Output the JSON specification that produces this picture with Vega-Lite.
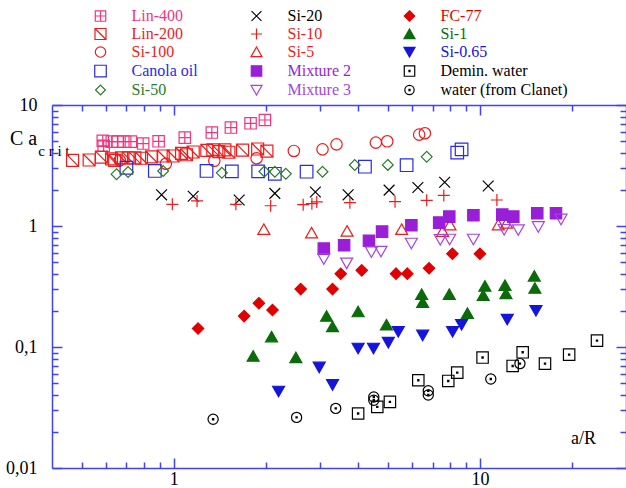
{
  "$schema": "https://vega.github.io/schema/vega-lite/v6.json",
  "width": 574,
  "height": 363,
  "autosize": {"type": "none"},
  "padding": {"left": 52, "top": 105, "right": 0, "bottom": 20},
  "background": "white",
  "config": {
    "font": "Liberation Serif, Times New Roman, Times, serif",
    "view": {"stroke": null},
    "text": {"font": "Liberation Serif, Times New Roman, Times, serif"},
    "axis": {"domainColor": "#4040ff", "domainWidth": 1.5, "tickColor": "#4040ff", "tickWidth": 1.5, "tickSize": 0, "grid": false, "labelFont": "Liberation Serif, Times New Roman, Times, serif", "labelFontSize": 18, "labelColor": "#000000", "labelOverlap": false, "labelFlush": false, "titleFont": "Liberation Serif, Times New Roman, Times, serif", "titleFontWeight": "normal", "titleColor": "#000000"},
    "legend": {"padding": 0, "labelFont": "Liberation Serif, Times New Roman, Times, serif"}
  },
  "data": {"values": [
    {"s":"Lin-400","x":0.586,"y":5.06},{"s":"Lin-400","x":0.590,"y":4.60},{"s":"Lin-400","x":0.627,"y":4.98},{"s":"Lin-400","x":0.656,"y":4.98},{"s":"Lin-400","x":0.684,"y":4.98},{"s":"Lin-400","x":0.724,"y":4.98},{"s":"Lin-400","x":0.794,"y":4.80},{"s":"Lin-400","x":0.892,"y":5.01},{"s":"Lin-400","x":1.086,"y":5.38},{"s":"Lin-400","x":1.331,"y":5.92},{"s":"Lin-400","x":1.536,"y":6.51},{"s":"Lin-400","x":1.781,"y":7.06},{"s":"Lin-400","x":1.984,"y":7.52},
    {"s":"Lin-200","x":0.467,"y":3.49},{"s":"Lin-200","x":0.529,"y":3.51},{"s":"Lin-200","x":0.580,"y":3.71},{"s":"Lin-200","x":0.626,"y":3.59},{"s":"Lin-200","x":0.641,"y":3.49},{"s":"Lin-200","x":0.675,"y":3.66},{"s":"Lin-200","x":0.709,"y":3.66},{"s":"Lin-200","x":0.746,"y":3.66},{"s":"Lin-200","x":0.784,"y":3.63},{"s":"Lin-200","x":0.846,"y":3.72},{"s":"Lin-200","x":0.923,"y":3.79},{"s":"Lin-200","x":0.995,"y":3.79},{"s":"Lin-200","x":1.06,"y":3.99},{"s":"Lin-200","x":1.10,"y":3.88},{"s":"Lin-200","x":1.157,"y":4.09},{"s":"Lin-200","x":1.282,"y":4.21},{"s":"Lin-200","x":1.341,"y":4.26},{"s":"Lin-200","x":1.403,"y":4.12},{"s":"Lin-200","x":1.468,"y":4.26},{"s":"Lin-200","x":1.513,"y":4.07},{"s":"Lin-200","x":1.677,"y":4.24},{"s":"Lin-200","x":1.879,"y":4.33},{"s":"Lin-200","x":2.014,"y":4.16},
    {"s":"Si-100","x":0.666,"y":3.49},{"s":"Si-100","x":0.942,"y":3.27},{"s":"Si-100","x":1.356,"y":3.46},{"s":"Si-100","x":1.864,"y":3.63},{"s":"Si-100","x":2.467,"y":4.17},{"s":"Si-100","x":3.06,"y":4.30},{"s":"Si-100","x":3.40,"y":4.73},{"s":"Si-100","x":4.57,"y":4.89},{"s":"Si-100","x":4.98,"y":5.01},{"s":"Si-100","x":6.33,"y":5.69},{"s":"Si-100","x":6.61,"y":5.84},
    {"s":"Canola oil","x":0.700,"y":3.03},{"s":"Canola oil","x":0.867,"y":2.85},{"s":"Canola oil","x":1.279,"y":2.85},{"s":"Canola oil","x":1.547,"y":2.83},{"s":"Canola oil","x":1.886,"y":2.83},{"s":"Canola oil","x":2.138,"y":2.70},{"s":"Canola oil","x":2.715,"y":2.81},{"s":"Canola oil","x":4.21,"y":3.09},{"s":"Canola oil","x":5.76,"y":3.18},{"s":"Canola oil","x":8.43,"y":4.04},{"s":"Canola oil","x":8.71,"y":4.30},
    {"s":"Si-50","x":0.650,"y":2.68},{"s":"Si-50","x":0.709,"y":2.79},{"s":"Si-50","x":0.923,"y":2.85},{"s":"Si-50","x":1.435,"y":2.75},{"s":"Si-50","x":1.976,"y":2.82},{"s":"Si-50","x":2.138,"y":2.81},{"s":"Si-50","x":2.323,"y":2.70},{"s":"Si-50","x":3.06,"y":2.81},{"s":"Si-50","x":3.90,"y":3.19},{"s":"Si-50","x":5.00,"y":3.20},{"s":"Si-50","x":6.70,"y":3.73},
    {"s":"Si-20","x":0.912,"y":1.81},{"s":"Si-20","x":1.157,"y":1.76},{"s":"Si-20","x":1.635,"y":1.64},{"s":"Si-20","x":2.138,"y":1.86},{"s":"Si-20","x":2.90,"y":1.91},{"s":"Si-20","x":3.71,"y":1.81},{"s":"Si-20","x":5.05,"y":1.98},{"s":"Si-20","x":6.27,"y":2.08},{"s":"Si-20","x":7.67,"y":2.30},{"s":"Si-20","x":10.64,"y":2.14},
    {"s":"Si-10","x":0.989,"y":1.51},{"s":"Si-10","x":1.191,"y":1.61},{"s":"Si-10","x":1.595,"y":1.51},{"s":"Si-10","x":2.072,"y":1.47},{"s":"Si-10","x":2.646,"y":1.50},{"s":"Si-10","x":2.825,"y":1.53},{"s":"Si-10","x":2.93,"y":1.58},{"s":"Si-10","x":3.76,"y":1.56},{"s":"Si-10","x":5.28,"y":1.59},{"s":"Si-10","x":6.70,"y":1.63},{"s":"Si-10","x":7.62,"y":1.79},{"s":"Si-10","x":11.36,"y":1.64},
    {"s":"Si-5","x":1.968,"y":0.939},{"s":"Si-5","x":2.818,"y":0.879},{"s":"Si-5","x":3.68,"y":0.909},{"s":"Si-5","x":5.55,"y":0.939},{"s":"Si-5","x":7.55,"y":0.904},{"s":"Si-5","x":7.98,"y":1.023},{"s":"Si-5","x":11.48,"y":1.023},{"s":"Si-5","x":12.21,"y":1.059},
    {"s":"Mixture 2","x":3.09,"y":0.650},{"s":"Mixture 2","x":3.60,"y":0.693},{"s":"Mixture 2","x":4.34,"y":0.755},{"s":"Mixture 2","x":4.79,"y":0.899},{"s":"Mixture 2","x":5.97,"y":1.013},{"s":"Mixture 2","x":7.36,"y":1.067},{"s":"Mixture 2","x":7.94,"y":1.196},{"s":"Mixture 2","x":9.52,"y":1.226},{"s":"Mixture 2","x":11.83,"y":1.242},{"s":"Mixture 2","x":12.85,"y":1.196},{"s":"Mixture 2","x":15.39,"y":1.273},{"s":"Mixture 2","x":17.72,"y":1.273},
    {"s":"Mixture 3","x":3.09,"y":0.534},{"s":"Mixture 3","x":3.67,"y":0.492},{"s":"Mixture 3","x":4.42,"y":0.610},{"s":"Mixture 3","x":4.75,"y":0.616},{"s":"Mixture 3","x":5.97,"y":0.719},{"s":"Mixture 3","x":7.42,"y":0.772},{"s":"Mixture 3","x":7.96,"y":0.776},{"s":"Mixture 3","x":9.52,"y":0.776},{"s":"Mixture 3","x":12.0,"y":0.934},{"s":"Mixture 3","x":13.34,"y":0.927},{"s":"Mixture 3","x":15.51,"y":0.985},{"s":"Mixture 3","x":18.40,"y":1.136},
    {"s":"FC-77","x":1.20,"y":0.142},{"s":"FC-77","x":1.697,"y":0.180},{"s":"FC-77","x":1.896,"y":0.230},{"s":"FC-77","x":2.101,"y":0.202},{"s":"FC-77","x":2.597,"y":0.301},{"s":"FC-77","x":3.30,"y":0.301},{"s":"FC-77","x":3.51,"y":0.403},{"s":"FC-77","x":4.11,"y":0.430},{"s":"FC-77","x":5.32,"y":0.404},{"s":"FC-77","x":5.79,"y":0.404},{"s":"FC-77","x":6.82,"y":0.447},{"s":"FC-77","x":8.13,"y":0.589},{"s":"FC-77","x":10.0,"y":0.589},
    {"s":"Si-1","x":1.816,"y":0.0842},{"s":"Si-1","x":2.086,"y":0.1215},{"s":"Si-1","x":2.504,"y":0.0818},{"s":"Si-1","x":3.155,"y":0.180},{"s":"Si-1","x":3.30,"y":0.1474},{"s":"Si-1","x":4.00,"y":0.196},{"s":"Si-1","x":4.95,"y":0.1526},{"s":"Si-1","x":6.45,"y":0.2727},{"s":"Si-1","x":6.50,"y":0.234},{"s":"Si-1","x":7.94,"y":0.2727},{"s":"Si-1","x":9.10,"y":0.190},{"s":"Si-1","x":10.38,"y":0.319},{"s":"Si-1","x":10.25,"y":0.2676},{"s":"Si-1","x":12.07,"y":0.3236},{"s":"Si-1","x":12.16,"y":0.2763},{"s":"Si-1","x":15.05,"y":0.386},{"s":"Si-1","x":15.12,"y":0.3067},
    {"s":"Si-0.65","x":2.199,"y":0.0430},{"s":"Si-0.65","x":2.985,"y":0.0680},{"s":"Si-0.65","x":3.30,"y":0.0487},{"s":"Si-0.65","x":4.00,"y":0.0975},{"s":"Si-0.65","x":4.49,"y":0.0975},{"s":"Si-0.65","x":5.02,"y":0.1088},{"s":"Si-0.65","x":5.41,"y":0.134},{"s":"Si-0.65","x":6.50,"y":0.125},{"s":"Si-0.65","x":8.14,"y":0.134},{"s":"Si-0.65","x":8.71,"y":0.153},{"s":"Si-0.65","x":12.28,"y":0.169},{"s":"Si-0.65","x":15.24,"y":0.200},
    {"s":"Demin. water","x":4.00,"y":0.0282},{"s":"Demin. water","x":4.62,"y":0.0320},{"s":"Demin. water","x":5.08,"y":0.0352},{"s":"Demin. water","x":6.29,"y":0.0531},{"s":"Demin. water","x":7.88,"y":0.0524},{"s":"Demin. water","x":8.43,"y":0.0614},{"s":"Demin. water","x":10.2,"y":0.0818},{"s":"Demin. water","x":12.79,"y":0.0697},{"s":"Demin. water","x":13.79,"y":0.0904},{"s":"Demin. water","x":16.31,"y":0.0729},{"s":"Demin. water","x":19.56,"y":0.0865},{"s":"Demin. water","x":24.12,"y":0.113},
    {"s":"water (from Clanet)","x":1.344,"y":0.0253},{"s":"water (from Clanet)","x":2.518,"y":0.0262},{"s":"water (from Clanet)","x":3.38,"y":0.0311},{"s":"water (from Clanet)","x":4.50,"y":0.0386},{"s":"water (from Clanet)","x":4.50,"y":0.0363},{"s":"water (from Clanet)","x":6.78,"y":0.0435},{"s":"water (from Clanet)","x":6.78,"y":0.0401},{"s":"water (from Clanet)","x":10.85,"y":0.0544},{"s":"water (from Clanet)","x":13.51,"y":0.0729}
  ]},
  "resolve": {"axis": {"x": "independent", "y": "independent"}},
  "layer": [
    {
      "mark": {"type": "point", "opacity": 1, "strokeWidth": 1.2, "size": 144},
      "encoding": {
        "x": {"field": "x", "type": "quantitative", "scale": {"type": "log", "domain": [0.4, 30], "nice": false},
          "axis": {"orient": "bottom", "values": [0.5,0.6,0.7,0.8,0.9,1,2,3,4,5,6,7,8,9,10,20], "labelExpr": "datum.value == 1 ? '1' : datum.value == 10 ? '10' : ''", "labelFont": "Times New Roman, Liberation Serif, serif", "labelPadding": 2, "title": "a/R", "titleFont": "Times New Roman, Liberation Serif, serif", "titleFontSize": 18, "titleX": 531, "titleY": -25, "titleBaseline": "alphabetic", "titleAlign": "center", "titleAngle": 0,
            "encoding": {"ticks": {"y2": {"value": {"expr": "datum.value == 1 || datum.value == 10 ? -10 : -6"}}}}}},
        "y": {"field": "y", "type": "quantitative", "scale": {"type": "log", "domain": [0.01, 10], "nice": false},
          "axis": {"orient": "left", "values": [0.01,0.02,0.03,0.04,0.05,0.06,0.07,0.08,0.09,0.1,0.2,0.3,0.4,0.5,0.6,0.7,0.8,0.9,1,2,3,4,5,6,7,8,9,10], "labelExpr": "datum.value == 10 ? '10' : datum.value == 1 ? '1' : datum.value == 0.1 ? '0,1' : datum.value == 0.01 ? '0,01' : ''", "labelFont": "Times New Roman, Liberation Serif, serif", "labelPadding": 15, "title": "C a", "titleFont": "Times New Roman, Liberation Serif, serif", "titleFontSize": 20, "titleAngle": 0, "titleX": -29, "titleY": 39, "titleBaseline": "alphabetic", "titleAlign": "center",
            "encoding": {"ticks": {"x2": {"value": {"expr": "datum.value == 0.01 || datum.value == 0.1 || datum.value == 1 || datum.value == 10 ? 10 : 6"}}}}}},
        "stroke": {"field": "s", "type": "nominal",
          "scale": {"domain": ["Lin-400","Lin-200","Si-100","Canola oil","Si-50","Si-20","Si-10","Si-5","Mixture 2","Mixture 3","FC-77","Si-1","Si-0.65","Demin. water","water (from Clanet)"],
                    "range": ["#f2357c","#ee1c1c","#ee1c1c","#2a2ae8","#2a7a2a","#000000","#ee1c1c","#ee1c1c","#9a1ed8","#a445e0","#e00000","#0b6b0b","#1414dc","#000000","#000000"]},
          "legend": {"orient": "none", "legendX": 40.5, "legendY": -97, "columns": 3, "columnPadding": 50, "rowPadding": 2, "title": null, "labelFont": "Times New Roman, Liberation Serif, serif", "labelFontSize": 16, "labelOffset": 23, "symbolSize": 121, "symbolStrokeWidth": 1.2, "labelLimit": 300,
            "encoding": {"labels": {"fill": {"value": {"expr": "scale('stroke', datum.value)"}}}}}},
        "fill": {"field": "s", "type": "nominal",
          "scale": {"domain": ["Lin-400","Lin-200","Si-100","Canola oil","Si-50","Si-20","Si-10","Si-5","Mixture 2","Mixture 3","FC-77","Si-1","Si-0.65","Demin. water","water (from Clanet)"],
                    "range": ["transparent","transparent","transparent","transparent","transparent","transparent","transparent","transparent","#9a1ed8","transparent","#e00000","#0b6b0b","#1414dc","transparent","transparent"]},
          "legend": {"orient": "none", "legendX": 40.5, "legendY": -97, "columns": 3, "columnPadding": 50, "rowPadding": 2, "title": null, "labelFont": "Times New Roman, Liberation Serif, serif", "labelFontSize": 16, "labelOffset": 23, "symbolSize": 121, "symbolStrokeWidth": 1.2, "labelLimit": 300,
            "encoding": {"labels": {"fill": {"value": {"expr": "scale('stroke', datum.value)"}}}}}},
        "shape": {"field": "s", "type": "nominal",
          "scale": {"domain": ["Lin-400","Lin-200","Si-100","Canola oil","Si-50","Si-20","Si-10","Si-5","Mixture 2","Mixture 3","FC-77","Si-1","Si-0.65","Demin. water","water (from Clanet)"],
                    "range": [
                      "M-0.95,-0.95H0.95V0.95H-0.95Z M0,-0.95V0.95 M-0.95,0H0.95",
                      "M-1,-1H1V1H-1Z M-1,-1L1,1",
                      "M0.95,0A0.95,0.95,0,1,1,-0.95,0A0.95,0.95,0,1,1,0.95,0Z",
                      "M-1.05,-1.05H1.05V1.05H-1.05Z",
                      "M0,-0.9L0.9,0L0,0.9L-0.9,0Z",
                      "M-0.9,-0.9L0.9,0.9M-0.9,0.9L0.9,-0.9",
                      "M-1,0H1M0,-1V1",
                      "M0,-0.9L1,0.85L-1,0.85Z",
                      "M-0.95,-0.95H0.95V0.95H-0.95Z",
                      "M-1,-0.85H1L0,0.9Z",
                      "M0,-0.95L0.95,0L0,0.95L-0.95,0Z",
                      "M0,-0.9L1,0.85L-1,0.85Z",
                      "M-1,-0.85H1L0,0.9Z",
                      "M-0.95,-0.95H0.95V0.95H-0.95Z M-0.1,-0.1H0.1V0.1H-0.1Z",
                      "M0.85,0A0.85,0.85,0,1,1,-0.85,0A0.85,0.85,0,1,1,0.85,0Z M-0.1,-0.1H0.1V0.1H-0.1Z"
                    ]},
          "legend": {"orient": "none", "legendX": 40.5, "legendY": -97, "columns": 3, "columnPadding": 50, "rowPadding": 2, "title": null, "labelFont": "Times New Roman, Liberation Serif, serif", "labelFontSize": 16, "labelOffset": 23, "symbolSize": 121, "symbolStrokeWidth": 1.2, "labelLimit": 300,
            "encoding": {"labels": {"fill": {"value": {"expr": "scale('stroke', datum.value)"}}}}}}
      }
    },
    {
      "mark": {"type": "point", "opacity": 0},
      "encoding": {
        "x": {"field": "x", "type": "quantitative", "scale": {"type": "log", "domain": [0.4, 30], "nice": false},
          "axis": {"orient": "top", "values": [0.5,0.6,0.7,0.8,0.9,1,2,3,4,5,6,7,8,9,10,20], "labels": false, "title": null,
            "encoding": {"ticks": {"y2": {"value": {"expr": "datum.value == 1 || datum.value == 10 ? 10 : 6"}}}}}},
        "y": {"field": "y", "type": "quantitative", "scale": {"type": "log", "domain": [0.01, 10], "nice": false},
          "axis": {"orient": "right", "values": [0.01,0.02,0.03,0.04,0.05,0.06,0.07,0.08,0.09,0.1,0.2,0.3,0.4,0.5,0.6,0.7,0.8,0.9,1,2,3,4,5,6,7,8,9,10], "labels": false, "title": "c r i t", "titleFont": "Times New Roman, Liberation Serif, serif", "titleFontSize": 15, "titleAngle": 0, "titleX": -572.6, "titleY": 50, "titleBaseline": "alphabetic", "titleAlign": "center",
            "encoding": {"ticks": {"x2": {"value": {"expr": "datum.value == 0.01 || datum.value == 0.1 || datum.value == 1 || datum.value == 10 ? -10 : -6"}}}}}}
      }
    }
  ]
}
